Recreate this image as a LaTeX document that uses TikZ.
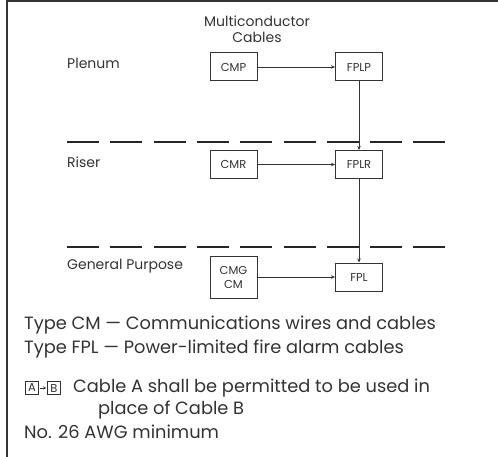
\documentclass[tikz,border=0pt]{standalone}
\usepackage{fontspec}
\setmainfont{Poppins}
\usetikzlibrary{arrows.meta}
\begin{document}
\begin{tikzpicture}[x=1pt,y=-1pt,
 box/.style={draw=black!80, line width=1pt, minimum width=47pt, minimum height=28pt, inner sep=0pt, font=\fontsize{11.5}{14}\selectfont, text=black!80, align=center},
 lab/.style={font=\fontsize{14}{16}\selectfont, text=black!80, anchor=west, inner sep=0pt},
 conn/.style={draw=black!80, line width=0.8pt, -{Stealth[length=4pt,width=3.5pt]}},
 sep/.style={draw=black!85, line width=2.5pt, dash pattern=on 32pt off 11.3pt},
 legend/.style={font=\fontsize{17.8}{24}\selectfont, anchor=west, inner sep=0pt, text=black!80},
 smallbox/.style={draw=black!80, line width=0.8pt, minimum width=13pt, minimum height=13pt, inner sep=0pt, font=\fontsize{11.5}{13}\selectfont, text=black!80},
 smallconn/.style={draw=black!80, line width=0.6pt, -{Stealth[length=3pt,width=3pt]}, shorten <=1pt, shorten >=1pt}]
\useasboundingbox (0,0) rectangle (498,457);
\draw[line width=2pt, black!80] (7,457) -- (7,1) -- (498,1);
\node[font=\fontsize{14}{16}\selectfont, text=black!80, align=center] (title) at (257,29) {Multiconductor\\Cables};
\node[lab] (plenum) at (67,63) {Plenum};
\node[lab] (riser) at (67,162) {Riser};
\node[lab] (gp) at (67,266) {General Purpose};
\draw[sep] (67,142) -- (447,142);
\draw[sep] (67,247) -- (447,247);
\node[box] (cmp) at (233.5,67) {CMP};
\node[box] (fplp) at (359,67) {FPLP};
\node[box] (cmr) at (233.5,164.5) {CMR};
\node[box] (fplr) at (359,164.5) {FPLR};
\node[box, minimum height=42pt] (cmg) at (233.5,277) {CMG\\CM};
\node[box] (fpl) at (359,277) {FPL};
\draw[conn] (cmp) -- (fplp);
\draw[conn] (cmr) -- (fplr);
\draw[conn] (cmg) -- (fpl);
\draw[conn] (fplp) -- (fplr);
\draw[conn] (fplr) -- (fpl);
\node[legend] (t1) at (24,325) {Type CM — Communications wires and cables};
\node[legend] (t2) at (24,349) {Type FPL — Power-limited fire alarm cables};
\node[smallbox] (la) at (32,388) {A};
\node[smallbox] (lb) at (54,388) {B};
\draw[smallconn] (la) -- (lb);
\node[legend] (t3) at (73,388) {Cable A shall be permitted to be used in};
\node[legend] (t4) at (98,410) {place of Cable B};
\node[legend] (t5) at (24,432) {No. 26 AWG minimum};
\end{tikzpicture}
\end{document}
